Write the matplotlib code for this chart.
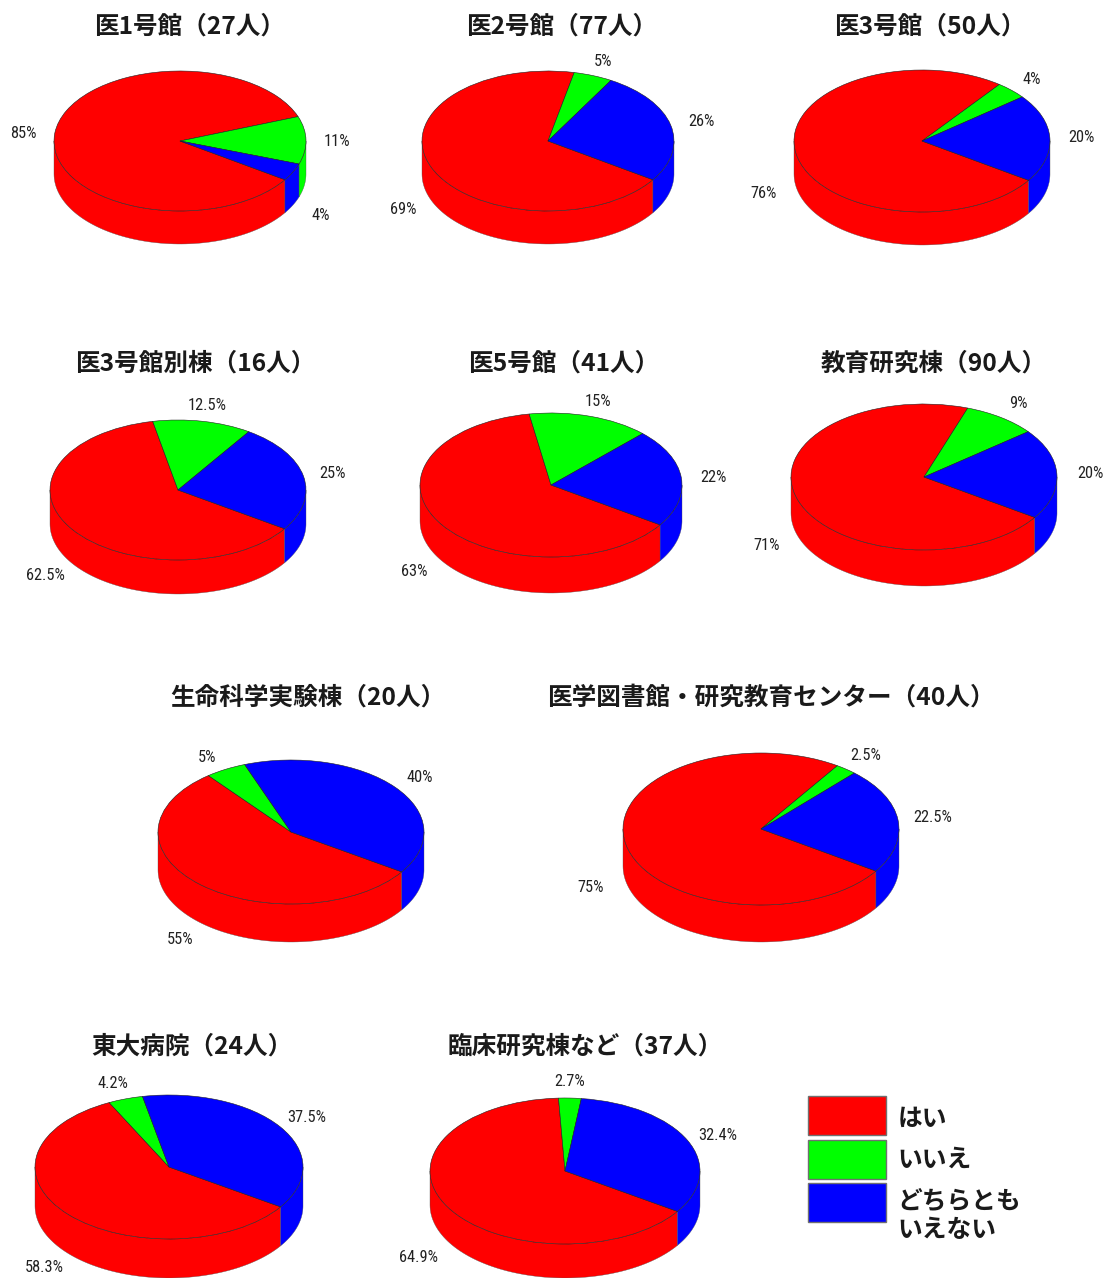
import numpy as np
import matplotlib
matplotlib.use("Agg")
import matplotlib.pyplot as plt
from matplotlib.patches import Rectangle
from matplotlib import font_manager

W, H = 1109, 1278

# survey answers per building, percent: yes / no / neither
buildings = ["医1号館", "医2号館", "医3号館", "医3号館別棟", "医5号館", "教育研究棟",
             "生命科学実験棟", "医学図書館・研究教育センター", "東大病院", "臨床研究棟など"]
counts = [27, 77, 50, 16, 41, 90, 20, 40, 24, 37]
yes_pct = [85, 69, 76, 62.5, 63, 71, 55, 75, 58.3, 64.9]
no_pct = [11, 5, 4, 12.5, 15, 9, 5, 2.5, 4.2, 2.7]
neither_pct = [4, 26, 20, 25, 22, 20, 40, 22.5, 37.5, 32.4]
answers = ["はい", "いいえ", "どちらとも\nいえない"]

colors = ["#ff0000", "#00ff00", "#0000ff"]
start_angle = -33.6

# layout: pie centre x, y, radius x, radius y, wall height
pie_boxes = [(180, 141, 126, 70, 33), (548, 141, 126, 70, 33), (922, 141, 128, 71, 33),
             (178, 490, 128, 70, 34), (551, 485, 131, 72, 36), (924, 477, 133, 73, 36),
             (291, 832, 133, 72, 38), (761, 829, 138, 76, 37),
             (169, 1167, 134, 72, 39), (565, 1171, 135, 73, 34)]
title_pos = [(190, 27), (562, 27), (930, 27), (195, 364), (564, 364), (934, 364),
             (308, 698), (771, 698), (192, 1047), (585, 1047)]
# label centres in the order yes, no, neither
label_pos = [[(23, 132), (337, 140), (321, 214)],
             [(403, 209), (603, 60), (701, 120)],
             [(764, 192), (1032, 78), (1081, 137)],
             [(45, 575), (207, 404), (333, 472)],
             [(414, 571), (598, 400), (713, 476)],
             [(767, 544), (1018, 403), (1090, 473)],
             [(180, 938), (207, 756), (420, 777)],
             [(591, 887), (866, 755), (933, 817)],
             [(44, 1266), (113, 1083), (307, 1117)],
             [(419, 1257), (570, 1081), (718, 1134)]]

installed = {f.name for f in font_manager.fontManager.ttflist}
narrow = "Liberation Sans"
for name in ["Liberation Sans Narrow", "Roboto Condensed"]:
    if name in installed:
        narrow = name
        break
jp = ["Noto Sans CJK JP", "DejaVu Sans"]


def draw_wall(ax, values, depth):
    # side of the disc, only the part of each slice that faces the viewer
    a0 = start_angle
    for val, col in zip(values, colors):
        a1 = a0 - val * 3.6
        for lo, hi in [(-180, 0), (-540, -360)]:
            t0, t1 = min(a0, hi), max(a1, lo)
            if t0 <= t1:
                continue
            t = np.radians(np.linspace(t0, t1, 80))
            xs = np.concatenate([np.cos(t), np.cos(t[::-1])])
            ys = np.concatenate([np.sin(t), np.sin(t[::-1]) - depth])
            ax.fill(xs, ys, facecolor=col, edgecolor="#505050", lw=0.25, zorder=1, clip_on=False)
        a0 = a1


def draw_pie(box, values):
    cx, cy, rx, ry, wall = box
    ax = fig.add_axes([(cx - rx) / W, 1 - (cy + ry + wall) / H,
                       2 * rx / W, (2 * ry + wall) / H])
    depth = wall / ry
    draw_wall(ax, values, depth)
    ax.pie(values, colors=colors, startangle=start_angle, counterclock=False, radius=1,
           normalize=True,
           wedgeprops=dict(edgecolor="#202020", linewidth=0.4, zorder=2, clip_on=False))
    # pie() forces a round disc, squash it back to the tilted ellipse
    ax.set_aspect("auto")
    ax.set_xlim(-1, 1)
    ax.set_ylim(-1 - depth, 1)
    ax.axis("off")


fig = plt.figure(figsize=(W / 100, H / 100), dpi=100)

for i in range(len(buildings)):
    draw_pie(pie_boxes[i], [yes_pct[i], no_pct[i], neither_pct[i]])

# texts and legend sit on a page-sized axes in pixel units
page = fig.add_axes([0, 0, 1, 1], facecolor="none")
page.set_xlim(0, W)
page.set_ylim(H, 0)
page.axis("off")

for i, name in enumerate(buildings):
    x, y = title_pos[i]
    page.text(x, y, f"{name}（{counts[i]}人）", ha="center", va="center",
              family=jp, weight="bold", fontsize=17.7, color="#1a1a1a")
    vals = [yes_pct[i], no_pct[i], neither_pct[i]]
    for (lx, ly), v in zip(label_pos[i], vals):
        page.text(lx, ly + 1, f"{v:g}%", ha="center", va="center",
                  family=narrow, fontsize=11.8, color="#222222")

legend_y = [1096, 1140, 1183]
legend_text_y = [1119, 1160, 1216]
for y, ty, col, txt in zip(legend_y, legend_text_y, colors, answers):
    page.add_patch(Rectangle((808, y), 78, 38.5, facecolor=col, edgecolor="#707070", lw=1))
    page.text(897.5, ty, txt, ha="left", va="center", family=jp, weight="bold",
              fontsize=17.8, color="#1a1a1a", linespacing=1.22)

fig.savefig("out.png", dpi=100, facecolor="white")
